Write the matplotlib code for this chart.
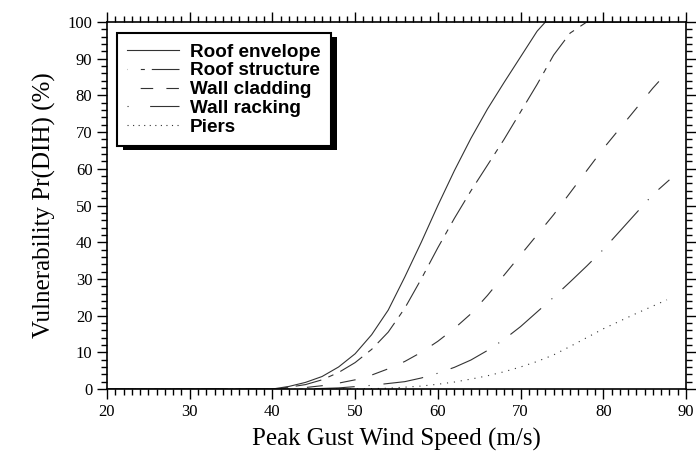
import matplotlib
matplotlib.use("Agg")
import matplotlib.pyplot as plt
from matplotlib.ticker import MultipleLocator
from matplotlib.lines import Line2D
from matplotlib.patches import Rectangle
from matplotlib.transforms import IdentityTransform

plt.rcParams["lines.scale_dashes"] = False

# wind speed (m/s) and vulnerability (%)
roof_env_x = [20, 40, 42, 44, 46, 48, 50, 52, 54, 56, 58, 60, 62, 64, 66, 68, 70, 72, 73, 88]
roof_env_y = [0, 0, 0.7, 1.8, 3.4, 6.0, 9.6, 14.8, 21.5, 30.5, 40, 50, 59.5, 68.3, 76.3, 83.5, 90.5, 97.5, 100, 100]

roof_str_x = [20, 40, 42, 44, 46, 48, 50, 52, 54, 56, 58, 60, 62, 64, 66, 68, 70, 72, 74, 76, 78, 88]
roof_str_y = [0, 0, 0.5, 1.2, 2.5, 4.5, 7.2, 10.8, 15.5, 22, 30, 38.5, 46.5, 54, 61, 68, 75.5, 83, 91, 97, 100, 100]

wall_clad_x = [20, 42, 44, 46, 48, 50, 52, 54, 56, 58, 60, 62, 64, 66, 68, 70, 72, 74, 76, 78,
               80, 82, 84, 86, 88]
wall_clad_y = [0, 0, 0.4, 0.9, 1.6, 2.5, 3.8, 5.5, 7.5, 10, 13, 16.5, 20.5, 25.5, 31, 36.5, 42, 47.5,
               53.5, 59.5, 65.5, 71, 76.5, 82, 87]

wall_rack_x = [20, 44, 48, 52, 56, 58, 60, 62, 64, 66, 68, 70, 72, 74, 76, 78, 80, 82, 84, 86, 88]
wall_rack_y = [0, 0, 0.3, 1, 2, 3, 4.3, 5.9, 7.9, 10.5, 13.5, 17, 21, 25, 29.2, 33.5, 38, 43, 48, 53, 57]

piers_x = [20, 50, 54, 56, 58, 60, 62, 64, 66, 68, 70, 72, 74, 76, 78, 80, 82, 84, 86, 87.7]
piers_y = [0, 0, 0.2, 0.5, 0.8, 1.3, 1.9, 2.7, 3.6, 4.7, 6, 7.5, 9.3, 11.6, 14, 16.4, 18.5, 20.6, 22.6, 24.3]

labels = ["Roof envelope", "Roof structure", "Wall cladding", "Wall racking", "Piers"]
# dash patterns (points) for the curves and for the legend samples
styles = ["-", (0, (19, 5.5, 4, 5.5)), (0, (11.5, 12.5)), (0, (29, 10, 0.8, 10)), (0, (0.8, 4.2))]
leg_styles = ["-", (36.7, (2.9, 5, 29, 9.4)), (9, (9, 9.5)), (0, (0.8, 15.5, 29, 10)), (0, (0.8, 3.2))]

fig = plt.figure(figsize=(6.96, 4.59), dpi=100)
ax = fig.add_axes([0.1537, 0.1525, 0.8319, 0.7995])

series = [(roof_env_x, roof_env_y), (roof_str_x, roof_str_y), (wall_clad_x, wall_clad_y),
          (wall_rack_x, wall_rack_y), (piers_x, piers_y)]
for (xs, ys), ls in zip(series, styles):
    ax.plot(xs, ys, color="#333333", lw=0.8, linestyle=ls)

ax.set_xlim(20, 90); ax.set_ylim(0, 100)
ax.xaxis.set_major_locator(MultipleLocator(10)); ax.xaxis.set_minor_locator(MultipleLocator(1))
ax.yaxis.set_major_locator(MultipleLocator(10)); ax.yaxis.set_minor_locator(MultipleLocator(2))
ax.tick_params(which="both", direction="out", top=True, right=True, labeltop=False, labelright=False,
               width=1.0, color="black")
ax.tick_params(which="major", length=7)
ax.tick_params(which="minor", length=4)
for lab in ax.get_xticklabels() + ax.get_yticklabels():
    lab.set_fontfamily("Liberation Serif"); lab.set_fontsize(12)
for sp in ax.spines.values():
    sp.set_linewidth(1.2)

ax.set_xlabel("Peak Gust Wind Speed (m/s)", fontfamily="Liberation Serif", fontsize=18, labelpad=6)
ax.set_ylabel("Vulnerability Pr(DIH) (%)", fontfamily="Liberation Serif", fontsize=18, labelpad=8)

handles = [Line2D([], [], color="#333333", lw=0.8, linestyle=ls) for ls in leg_styles]
leg = ax.legend(handles, labels, loc="upper left", bbox_to_anchor=(0.0173, 0.970),
                borderaxespad=0, fancybox=False, shadow=False, edgecolor="black", framealpha=1,
                prop={"family": "Liberation Sans", "weight": "bold", "size": 13.6},
                handlelength=2.75, handletextpad=0.55, labelspacing=0.08, borderpad=0.55)
leg.get_frame().set_linewidth(1.5)

# hard black drop shadow behind the legend box
fig.canvas.draw()
bb = leg.get_window_extent()
ax.add_patch(Rectangle((bb.x0 + 6, bb.y0 - 4), bb.width, bb.height, transform=IdentityTransform(),
                       facecolor="black", edgecolor="none", zorder=4.9, clip_on=False))

fig.savefig("out.png", dpi=100)
